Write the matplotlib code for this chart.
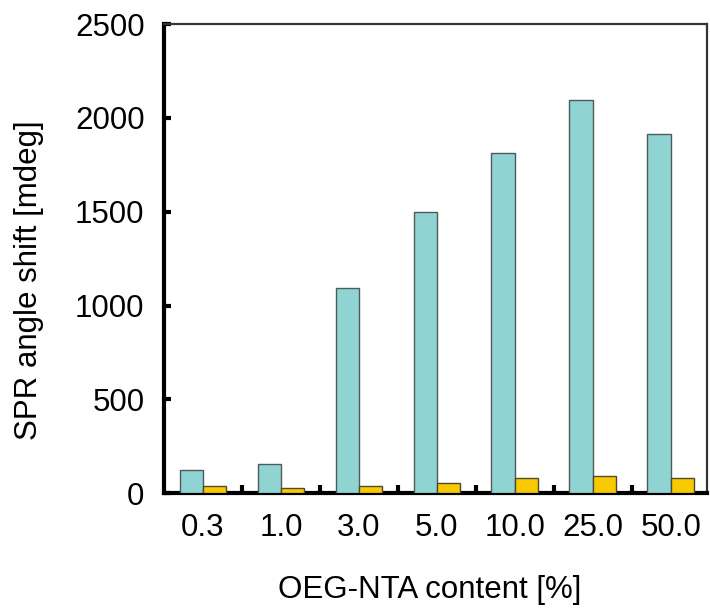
import numpy as np
import matplotlib.pyplot as plt

plt.rcParams['font.family'] = ['Liberation Sans', 'DejaVu Sans']

contents = ['0.3', '1.0', '3.0', '5.0', '10.0', '25.0', '50.0']
shift_blue = [124, 158, 1092, 1500, 1811, 2095, 1912]
shift_yellow = [39, 30, 39, 56, 83, 92, 83]

def main():
    fig = plt.figure(figsize=(7.1, 6.14), dpi=100)
    ax = fig.add_axes([0.231, 0.1966, 0.7643, 0.7643])

    x = np.arange(len(contents))
    w = 0.3
    ax.bar(x - w/2, shift_blue, w, color='#8fd4d3', edgecolor='#4d5a5a', linewidth=1.0, zorder=3)
    ax.bar(x + w/2, shift_yellow, w, color='#f9c900', edgecolor='#4d4a30', linewidth=1.0, zorder=3)

    ax.set_xlim(-0.5, 6.46)
    ax.set_ylim(0, 2500)
    ax.set_yticks(np.arange(0, 2501, 500))
    ax.set_xticks(x)
    ax.set_xticklabels(contents)
    ax.set_xticks(x[:-1] + 0.5, minor=True)

    fs = 22.5
    ax.tick_params(axis='x', which='major', length=0, pad=14, labelsize=fs)
    ax.tick_params(axis='x', which='minor', direction='in', length=6, width=3, color='black')
    ax.tick_params(axis='y', direction='in', length=5, width=3, pad=14, labelsize=fs)

    for side in ['left', 'bottom']:
        ax.spines[side].set_linewidth(3)
        ax.spines[side].set_color('black')
    for side in ['top', 'right']:
        ax.spines[side].set_linewidth(1.6)
        ax.spines[side].set_color('#333333')

    ax.set_xlabel('OEG-NTA content [%]', fontsize=fs)
    ax.set_ylabel('SPR angle shift [mdeg]', fontsize=fs)
    ax.xaxis.set_label_coords(0.489, -0.175)
    ax.yaxis.set_label_coords(-0.222, 0.455)

    fig.savefig('out.png', dpi=100)

if __name__ == "__main__":
    main()
